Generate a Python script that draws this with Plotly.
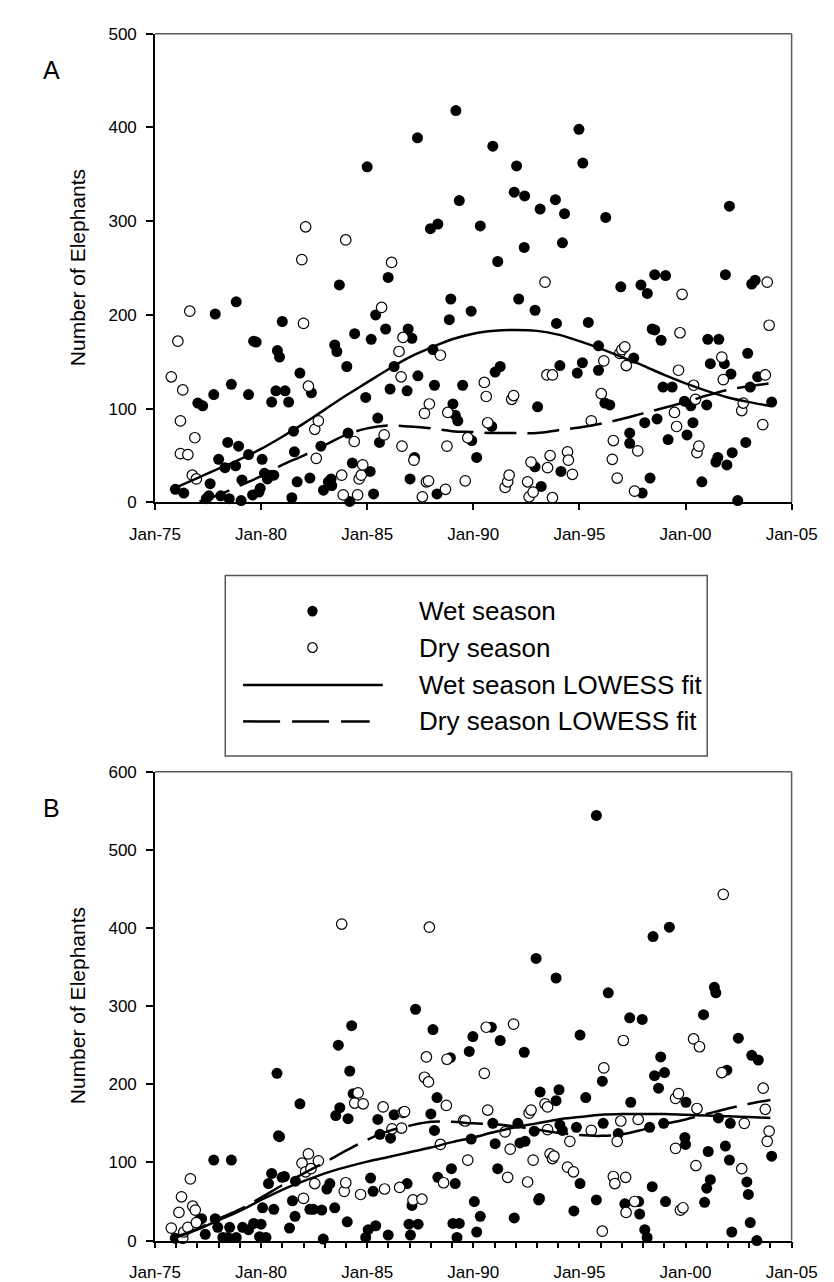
import plotly.graph_objects as go

# ---------------- data (decimal year, number of elephants) ----------------
a_wet_year = [1975.96, 1976.36, 1977.02, 1977.25, 1977.42, 1977.54, 1977.60, 1977.77, 1977.84, 1978.00,
              1978.10, 1978.30, 1978.43, 1978.50, 1978.60, 1978.80, 1978.83, 1978.94, 1979.06, 1979.10,
              1979.41, 1979.41, 1979.60, 1979.65, 1979.77, 1979.90, 1979.96, 1980.05, 1980.16, 1980.30,
              1980.47, 1980.50, 1980.60, 1980.70, 1980.77, 1980.87, 1981.00, 1981.13, 1981.30, 1981.45,
              1981.53, 1981.57, 1981.70, 1981.83, 1982.30, 1982.37, 1982.82, 1982.94, 1983.17, 1983.30,
              1983.33, 1983.47, 1983.57, 1983.69, 1984.04, 1984.10, 1984.18, 1984.30, 1984.41, 1984.93,
              1985.00, 1985.14, 1985.19, 1985.30, 1985.40, 1985.50, 1985.58, 1985.87, 1985.99, 1986.08,
              1986.27, 1986.88, 1986.93, 1987.02, 1987.11, 1987.23, 1987.37, 1987.39, 1987.98, 1988.10,
              1988.17, 1988.33, 1988.29, 1988.87, 1988.94, 1989.04, 1989.15, 1989.18, 1989.27, 1989.34,
              1989.50, 1989.90, 1989.93, 1990.16, 1990.33, 1990.87, 1990.92, 1991.03, 1991.15, 1991.27,
              1991.93, 1992.04, 1992.14, 1992.40, 1992.42, 1992.91, 1992.91, 1993.03, 1993.15, 1993.20,
              1993.87, 1993.92, 1994.08, 1994.13, 1994.20, 1994.30, 1994.90, 1994.98, 1995.14, 1995.16,
              1995.42, 1995.90, 1995.90, 1996.20, 1996.24, 1996.43, 1996.95, 1997.37, 1997.37, 1997.56,
              1997.90, 1997.96, 1998.08, 1998.20, 1998.33, 1998.43, 1998.55, 1998.55, 1998.66, 1998.85,
              1998.94, 1999.06, 1999.18, 1999.37, 1999.95, 2000.07, 2000.25, 2000.35, 2000.77, 2001.00,
              2001.05, 2001.17, 2001.43, 2001.52, 2001.57, 2001.83, 2001.95, 2001.88, 2002.07, 2002.14,
              2002.20, 2002.46, 2002.84, 2002.93, 2003.05, 2003.12, 2003.28, 2003.40, 2004.06]
a_wet_count = [14, 10, 106, 103, 4, 7, 20, 115, 201, 46,
               7, 37, 64, 4, 126, 39, 214, 60, 2, 24,
               115, 51, 8, 172, 171, 11, 15, 46, 31, 25,
               29, 107, 29, 119, 162, 155, 193, 119, 107, 5,
               76, 54, 22, 138, 26, 117, 60, 13, 22, 25,
               18, 168, 161, 232, 145, 74, 1, 42, 180, 112,
               358, 33, 174, 9, 200, 90, 64, 185, 240, 121,
               145, 119, 185, 25, 175, 48, 389, 135, 292, 163,
               125, 297, 9, 195, 217, 105, 93, 418, 87, 322,
               125, 204, 66, 48, 295, 81, 380, 139, 257, 145,
               331, 359, 217, 272, 327, 205, 38, 102, 313, 17,
               323, 191, 146, 33, 277, 308, 138, 398, 149, 362,
               192, 167, 141, 106, 304, 104, 230, 74, 63, 154,
               232, 10, 85, 223, 26, 185, 243, 184, 89, 173,
               123, 242, 67, 123, 108, 72, 103, 85, 22, 104,
               174, 148, 43, 48, 174, 148, 40, 243, 316, 137,
               53, 2, 64, 159, 123, 233, 237, 134, 107]

a_dry_year = [1975.77, 1976.08, 1976.20, 1976.20, 1976.31, 1976.55, 1976.64, 1976.76, 1976.88, 1976.95,
              1981.92, 1982.00, 1982.10, 1982.23, 1982.53, 1982.60, 1982.70, 1983.80, 1983.87, 1983.99,
              1984.39, 1984.55, 1984.62, 1984.72, 1984.79, 1985.68, 1985.80, 1986.15, 1986.50, 1986.60,
              1986.69, 1986.64, 1987.20, 1987.60, 1987.70, 1987.79, 1987.89, 1987.93, 1988.45, 1988.69,
              1988.76, 1988.80, 1989.62, 1989.74, 1990.52, 1990.61, 1990.68, 1991.50, 1991.62, 1991.69,
              1991.81, 1991.90, 1992.56, 1992.63, 1992.72, 1992.82, 1993.38, 1993.47, 1993.50, 1993.62,
              1993.73, 1993.73, 1994.44, 1994.48, 1994.67, 1995.56, 1996.03, 1996.15, 1996.55, 1996.60,
              1996.78, 1996.90, 1997.00, 1997.14, 1997.21, 1997.60, 1997.75, 1999.48, 1999.58, 1999.67,
              1999.74, 1999.84, 2000.38, 2000.47, 2000.54, 2000.63, 2001.71, 2001.78, 2002.65, 2002.72,
              2003.64, 2003.76, 2003.85, 2003.94]
a_dry_count = [134, 172, 87, 52, 120, 51, 204, 29, 69, 25,
               259, 191, 294, 124, 78, 47, 87, 29, 8, 280,
               65, 8, 25, 29, 40, 208, 72, 256, 161, 134,
               176, 60, 45, 6, 95, 22, 23, 105, 157, 14,
               60, 96, 23, 69, 128, 113, 85, 16, 22, 29,
               110, 114, 22, 6, 43, 11, 235, 136, 37, 50,
               136, 5, 54, 45, 30, 87, 116, 151, 46, 66,
               26, 159, 163, 166, 146, 12, 55, 96, 81, 141,
               181, 222, 125, 110, 53, 60, 155, 131, 98, 106,
               83, 136, 235, 189]

b_wet_year = [1975.96, 1977.07, 1977.20, 1977.37, 1977.77, 1977.84, 1977.96, 1978.20, 1978.43, 1978.52,
              1978.60, 1978.83, 1979.13, 1979.41, 1979.65, 1979.93, 1980.00, 1980.07, 1980.23, 1980.35,
              1980.50, 1980.60, 1980.75, 1980.82, 1980.87, 1980.99, 1981.10, 1981.34, 1981.48, 1981.60,
              1981.62, 1981.83, 1982.30, 1982.46, 1982.86, 1982.93, 1983.10, 1983.24, 1983.47, 1983.64,
              1983.71, 1983.52, 1984.06, 1984.10, 1984.18, 1984.27, 1984.34, 1984.93, 1985.05, 1985.16,
              1985.28, 1985.40, 1985.50, 1985.60, 1985.99, 1986.10, 1986.27, 1986.88, 1986.97, 1987.04,
              1987.11, 1987.28, 1987.40, 1988.00, 1988.10, 1988.17, 1988.29, 1988.33, 1988.92, 1988.97,
              1989.04, 1989.15, 1989.23, 1989.34, 1989.81, 1989.90, 1989.98, 1990.05, 1990.16, 1990.33,
              1990.85, 1990.92, 1991.03, 1991.15, 1991.27, 1991.93, 1992.10, 1992.20, 1992.40, 1992.44,
              1992.87, 1992.96, 1993.08, 1993.12, 1993.15, 1993.90, 1993.90, 1994.04, 1994.08, 1994.20,
              1994.74, 1994.86, 1995.03, 1995.03, 1995.30, 1995.80, 1995.80, 1996.08, 1996.12, 1996.36,
              1996.83, 1997.14, 1997.37, 1997.42, 1997.79, 1997.84, 1997.96, 1998.08, 1998.19, 1998.31,
              1998.43, 1998.47, 1998.54, 1998.73, 1998.83, 1998.97, 1999.01, 1999.06, 1999.24, 2000.02,
              1999.97, 2000.00, 2000.85, 2000.90, 2001.00, 2001.07, 2001.17, 2001.36, 2001.43, 2001.55,
              2001.88, 2001.95, 2002.07, 2002.11, 2002.18, 2002.49, 2002.89, 2002.96, 2003.05, 2003.12,
              2003.36, 2003.43, 2004.06]
b_wet_count = [3, 26, 28, 8, 103, 28, 17, 4, 4, 17,
               103, 4, 17, 14, 22, 5, 21, 42, 4, 73,
               86, 40, 214, 134, 133, 81, 82, 16, 51, 31,
               76, 175, 40, 40, 39, 2, 66, 73, 42, 250,
               170, 160, 24, 156, 217, 275, 188, 4, 14, 80,
               63, 19, 155, 136, 7, 131, 161, 73, 21, 7,
               45, 296, 21, 162, 270, 141, 183, 81, 234, 92,
               22, 73, 4, 22, 242, 130, 261, 50, 11, 31,
               273, 150, 124, 92, 256, 29, 150, 125, 241, 127,
               140, 361, 52, 54, 190, 336, 179, 193, 148, 141,
               38, 145, 73, 263, 183, 52, 544, 204, 150, 317,
               137, 47, 285, 177, 50, 34, 283, 14, 4, 145,
               69, 389, 211, 195, 235, 150, 215, 50, 401, 177,
               132, 123, 289, 49, 67, 114, 78, 324, 317, 157,
               121, 218, 103, 150, 11, 259, 75, 59, 23, 237,
               0, 231, 108]

b_dry_year = [1975.77, 1976.13, 1976.25, 1976.31, 1976.36, 1976.55, 1976.67, 1976.78, 1976.90, 1976.95,
              1981.93, 1982.00, 1982.10, 1982.23, 1982.35, 1982.53, 1982.70, 1983.80, 1983.92, 1983.99,
              1984.41, 1984.57, 1984.69, 1984.81, 1985.75, 1985.82, 1986.17, 1986.53, 1986.62, 1986.69,
              1986.76, 1987.16, 1987.58, 1987.70, 1987.79, 1987.89, 1987.93, 1988.45, 1988.60, 1988.73,
              1988.76, 1989.55, 1989.62, 1989.74, 1990.52, 1990.61, 1990.68, 1991.50, 1991.62, 1991.74,
              1991.90, 1992.56, 1992.63, 1992.72, 1992.82, 1993.38, 1993.50, 1993.50, 1993.62, 1993.73,
              1993.80, 1994.44, 1994.55, 1994.72, 1995.56, 1996.08, 1996.15, 1996.60, 1996.67, 1996.78,
              1996.95, 1997.07, 1997.18, 1997.20, 1997.60, 1997.77, 1999.53, 1999.53, 1999.67, 1999.76,
              1999.88, 2000.38, 2000.49, 2000.54, 2000.66, 2001.71, 2001.78, 2002.65, 2002.77, 2003.66,
              2003.76, 2003.85, 2003.94]
b_dry_count = [16, 36, 56, 3, 11, 17, 79, 44, 39, 23,
               99, 54, 88, 111, 92, 73, 102, 405, 63, 74,
               176, 189, 59, 175, 171, 66, 143, 68, 144, 164,
               165, 52, 53, 209, 235, 203, 401, 123, 74, 173,
               232, 154, 153, 103, 214, 273, 167, 139, 81, 117,
               277, 75, 163, 167, 103, 175, 171, 142, 111, 105,
               108, 94, 127, 88, 141, 12, 221, 82, 73, 127,
               153, 256, 81, 36, 50, 155, 118, 182, 188, 39,
               42, 258, 96, 169, 248, 215, 443, 92, 150, 195,
               168, 127, 140]

# LOWESS fits
a_wet_fit_year = list(range(1976, 2005))
a_wet_fit = [16, 26, 36, 46, 57, 70, 84, 99, 114, 128,
             142, 155, 165, 174, 180, 183, 184, 183, 179, 172,
             164, 155, 146, 136, 127, 119, 112, 107, 103]
a_dry_fit_year = [1977.1] + list(range(1978, 2005))
a_dry_fit = [1, 8, 18, 28, 40, 50, 61, 72, 79, 82,
             81, 79, 76, 75, 74, 74, 74, 77, 80, 84,
             89, 95, 101, 107, 114, 120, 124, 127]
b_wet_fit_year = list(range(1976, 2005))
b_wet_fit = [4, 14, 26, 38, 52, 65, 76, 86, 94, 101,
             107, 113, 119, 126, 132, 139, 145, 150, 155, 158,
             161, 162, 162, 162, 161, 160, 159, 158, 157]
b_dry_fit_year = list(range(1976, 2005))
b_dry_fit = [5, 15, 28, 40, 55, 71, 86, 100, 115, 129,
             140, 147, 152, 152, 150, 149, 146, 142, 138, 135,
             134, 136, 142, 149, 155, 162, 169, 175, 180]

tick_years = [1975, 1980, 1985, 1990, 1995, 2000, 2005]
tick_labels = ["Jan-75", "Jan-80", "Jan-85", "Jan-90", "Jan-95", "Jan-00", "Jan-05"]
legend_labels = ["Wet season", "Dry season", "Wet season LOWESS fit", "Dry season LOWESS fit"]

# ---------------- layout helpers ----------------
W, H = 834, 1282
FONT = "Liberation Sans, Arial, Helvetica, sans-serif"


def fx(p):
    return p / W


def fy(p):
    return 1 - p / H


wet_marker = dict(symbol="circle", size=11, color="black", line=dict(width=0))
dry_marker = dict(symbol="circle", size=10.5, color="white", line=dict(color="black", width=1.2))
wet_line = dict(color="black", width=2.5)
dry_line = dict(color="black", width=2.5, dash="32px,11px")

fig = go.Figure()

panels = [
    ("x", "y", a_wet_year, a_wet_count, a_dry_year, a_dry_count,
     a_wet_fit_year, a_wet_fit, a_dry_fit_year, a_dry_fit),
    ("x2", "y2", b_wet_year, b_wet_count, b_dry_year, b_dry_count,
     b_wet_fit_year, b_wet_fit, b_dry_fit_year, b_dry_fit),
]
for xa, ya, wy, wc, dy, dc, fwy, fwc, fdy, fdc in panels:
    fig.add_trace(go.Scatter(x=wy, y=wc, mode="markers", marker=wet_marker, name=legend_labels[0],
                             xaxis=xa, yaxis=ya, cliponaxis=False, showlegend=False))
    fig.add_trace(go.Scatter(x=dy, y=dc, mode="markers", marker=dry_marker, name=legend_labels[1],
                             xaxis=xa, yaxis=ya, cliponaxis=False, showlegend=False))
    fig.add_trace(go.Scatter(x=fwy, y=fwc, mode="lines", line=dict(shape="spline", **wet_line),
                             name=legend_labels[2], xaxis=xa, yaxis=ya, showlegend=False))
    fig.add_trace(go.Scatter(x=fdy, y=fdc, mode="lines", line=dict(shape="spline", **dry_line),
                             name=legend_labels[3], xaxis=xa, yaxis=ya, showlegend=False))

xdom = [fx(129), fx(808)]
common_x = dict(range=[1975, 2005], tickvals=tick_years, ticktext=tick_labels,
                showline=True, linecolor="black", linewidth=1.5, ticks="outside",
                ticklen=6, tickwidth=1.5, tickcolor="black", showgrid=False, zeroline=False,
                tickfont=dict(family=FONT, size=17, color="black"), ticklabelstandoff=9,
                domain=xdom, fixedrange=True)
common_y = dict(showline=True, linecolor="black", linewidth=1.5, ticks="outside",
                ticklen=7, tickwidth=1.5, tickcolor="black", showgrid=False, zeroline=False,
                tickfont=dict(family=FONT, size=17, color="black"), ticklabelstandoff=6,
                dtick=100, tick0=0, fixedrange=True)

fig.update_layout(
    width=W, height=H,
    margin=dict(l=0, r=0, t=0, b=0),
    paper_bgcolor="white", plot_bgcolor="white",
    showlegend=False,
    font=dict(family=FONT, color="black"),
    xaxis=dict(anchor="y", **common_x),
    yaxis=dict(anchor="x", range=[0, 500], domain=[fy(492.7), fy(17)], **common_y),
    xaxis2=dict(anchor="y2", minor=dict(dtick=1, tick0=1975, ticks="outside", ticklen=6,
                                        tickwidth=1.5, tickcolor="black"), **common_x),
    yaxis2=dict(anchor="x2", range=[0, 600], domain=[fy(1242), fy(766)], **common_y),
)

# gray top / right frame lines
for xs, ys in [("x", "y"), ("x2", "y2")]:
    for (x0, y0, x1, y1) in [(0, 1, 1, 1), (1, 0, 1, 1)]:
        fig.add_shape(type="line", xref=f"{xs} domain", yref=f"{ys} domain",
                      x0=x0, y0=y0, x1=x1, y1=y1, line=dict(color="#5a5a5a", width=1.5))

# axis titles and panel letters
for ycenter in [(17 + 492.7) / 2, (766 + 1242) / 2]:
    fig.add_annotation(text="Number of Elephants", xref="paper", yref="paper",
                       x=fx(46), y=fy(ycenter), textangle=-90, showarrow=False,
                       xanchor="center", yanchor="middle",
                       font=dict(family=FONT, size=21, color="black"))
for letter, ypos in [("A", 54), ("B", 803)]:
    fig.add_annotation(text=letter, xref="paper", yref="paper", x=fx(19), y=fy(ypos),
                       showarrow=False, xanchor="center", yanchor="middle",
                       font=dict(family=FONT, size=25, color="black"))

# custom legend box
fig.add_shape(type="rect", xref="paper", yref="paper", x0=fx(204), x1=fx(718), y0=fy(750), y1=fy(567),
              line=dict(color="#555555", width=1.5), fillcolor="white", layer="below")
rows = [603, 640, 678, 715]
r = 5.5
fig.add_shape(type="circle", xref="paper", yref="paper", x0=fx(297 - r), x1=fx(297 + r),
              y0=fy(rows[0] + r), y1=fy(rows[0] - r), fillcolor="black", line=dict(width=0))
fig.add_shape(type="circle", xref="paper", yref="paper", x0=fx(297 - 5), x1=fx(297 + 5),
              y0=fy(rows[1] + 5), y1=fy(rows[1] - 5), fillcolor="white",
              line=dict(color="black", width=1.2))
fig.add_shape(type="line", xref="paper", yref="paper", x0=fx(223), x1=fx(372),
              y0=fy(rows[2]), y1=fy(rows[2]), line=dict(color="black", width=2.5))
fig.add_shape(type="line", xref="paper", yref="paper", x0=fx(223), x1=fx(358),
              y0=fy(rows[3]), y1=fy(rows[3]), line=dict(color="black", width=2.5, dash="37px,12px"))
for label, ry in zip(legend_labels, rows):
    fig.add_annotation(text=label, xref="paper", yref="paper", x=fx(408), y=fy(ry),
                       showarrow=False, xanchor="left", yanchor="middle",
                       font=dict(family=FONT, size=26, color="black"))

fig.write_html("out.html")
